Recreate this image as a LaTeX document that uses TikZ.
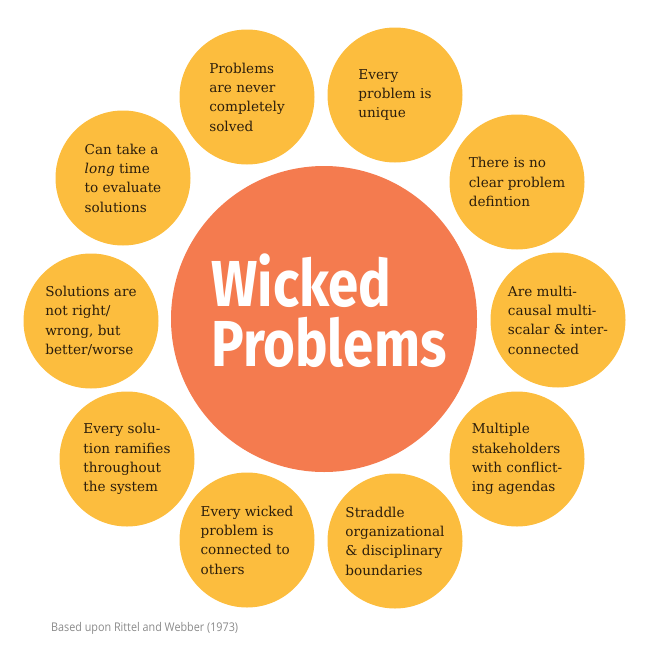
\documentclass[tikz,border=0pt]{standalone}
\usepackage{fontspec}
\setmainfont{DejaVu Serif}
\newfontfamily\titlefont{Fira Sans}
\newfontfamily\notefont{Open Sans}
\definecolor{petal}{HTML}{FCBD3E}
\definecolor{core}{HTML}{F47B4F}
\definecolor{ink}{HTML}{2C1E0C}
\definecolor{note}{HTML}{8A8A8A}
\begin{document}
\begin{tikzpicture}[x = 1pt, y = -1pt,
  petal/.style = {circle, fill = petal, minimum size = 135pt, inner sep = 0pt, align = left, text = ink,
    font = \fontsize{13.6}{19.3}\selectfont}]
\useasboundingbox (0,0) rectangle (652,653);
\node[circle, fill = core, minimum size = 306pt, inner sep = 0pt] (core) at (324,319) {};
\node[white, align = left, xscale = 0.84, font = \titlefont\bfseries\fontsize{65}{60}\selectfont] (title) at (329,311) {Wicked\\Problems};
\node[petal] (solved) at (247,97) {Problems\\are never\\completely\\solved};
\node[petal] (unique) at (395,95) {Every\\problem is\\unique};
\node[petal] (definition) at (517,182) {There is no\\clear problem\\defintion};
\node[petal] (causal) at (558,320) {Are multi-\\causal multi-\\scalar \& inter-\\connected};
\node[petal] (stakeholders) at (517,459) {Multiple\\stakeholders\\with conflict-\\ing agendas};
\node[petal] (boundaries) at (395,541) {Straddle\\organizational\\\& disciplinary\\boundaries};
\node[petal] (connected) at (247,540) {Every wicked\\problem is\\connected to\\others};
\node[petal] (ramifies) at (127,459) {Every solu-\\tion ramifies\\throughout\\the system};
\node[petal] (rightwrong) at (91,321) {Solutions are\\not right/\\wrong, but\\better/worse};
\node[petal] (longtime) at (123,178) {Can take a\\\emph{long} time\\to evaluate\\solutions};
\node[note, anchor = west, xscale = 0.9, font = \notefont\fontsize{12}{14}\selectfont] (source) at (48,628) {Based upon Rittel and Webber (1973)};
\end{tikzpicture}
\end{document}
